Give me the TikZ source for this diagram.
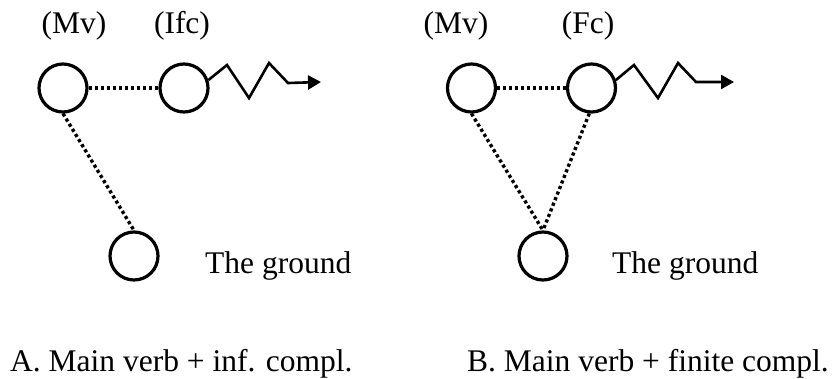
\documentclass[tikz,border=0pt]{standalone}
\usepackage{fontspec}
\setmainfont{Liberation Serif}
\usetikzlibrary{arrows.meta}
\begin{document}
\begin{tikzpicture}[x=1pt,y=-1pt,
  every node/.style={font=\fontsize{31.5}{36}\selectfont},
  vert/.style={circle,draw,line width=3.2pt,minimum size=48pt,inner sep=0pt},
  link/.style={line width=3.4pt,dash pattern=on 3.2pt off 2.8pt},
  wave/.style={line width=2.6pt,-{Triangle[length=13pt,width=14pt]}},
  lbl/.style={anchor=base,inner sep=0pt},
  txt/.style={anchor=base west,inner sep=0pt}]
\useasboundingbox (0,0) rectangle (833,378);
% Panel A
\node[vert] (a1) at (63,88) {};
\node[vert] (a2) at (184,88) {};
\node[vert] (a3) at (134,256) {};
\node[lbl] (la1) at (74,33) {(Mv)};
\node[lbl] (la2) at (182,33) {(Ifc)};
\node[txt] (ga) at (205,273) {The ground};
\node[txt] (ca) at (10,371) {A. Main verb + inf. compl.};
\draw[link] (a1) -- (a2);
\draw[link] (a1.south) -- (a3.north);
\coordinate (ea) at (321,82);
\draw[wave] (a2.18) -- (227,65) -- (249,98) -- (269,63) -- (288,83) -- (ea);
% Panel B
\node[vert] (b1) at (471.5,88) {};
\node[vert] (b2) at (591.5,88) {};
\node[vert] (b3) at (543,256) {};
\node[lbl] (lb1) at (456,33) {(Mv)};
\node[lbl] (lb2) at (588,33) {(Fc)};
\node[txt] (gb) at (612,273) {The ground};
\node[txt] (cb) at (467,371) {B. Main verb + finite compl.};
\draw[link] (b1) -- (b2);
\draw[link] (b1.south) -- (b3.north);
\draw[link] (b2.-95) -- (b3.north);
\coordinate (eb) at (734,82);
\draw[wave] (b2.18) -- (634,65) -- (658,98) -- (678,63) -- (696,82) -- (eb);
\end{tikzpicture}
\end{document}
